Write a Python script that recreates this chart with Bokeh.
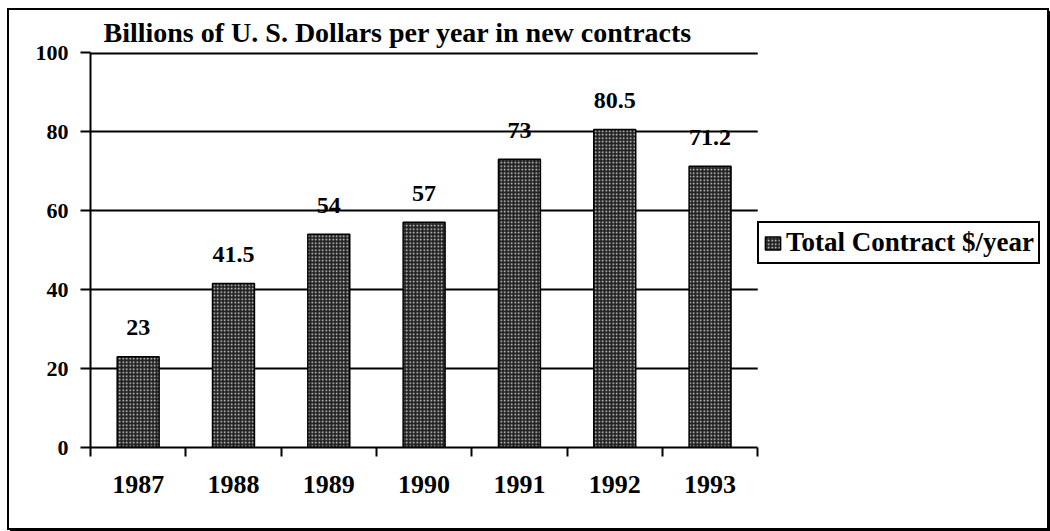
from bokeh.plotting import figure
from bokeh.models import Range1d, FixedTicker, Legend, LegendItem
from bokeh.core.properties import value
from bokeh.embed import file_html
from bokeh.resources import INLINE

# ---- data ----
years = ["1987", "1988", "1989", "1990", "1991", "1992", "1993"]
contracts = [23, 41.5, 54, 57, 73, 80.5, 71.2]
value_labels = ["23", "41.5", "54", "57", "73", "80.5", "71.2"]
y_ticks = [0, 20, 40, 60, 80, 100]
title_text = "Billions of U. S. Dollars per year in new contracts"
series_name = "Total Contract $/year"

FONT = "Liberation Serif"
n = len(years)
xs = list(range(n))
x_left, x_right = -0.5, n - 0.5          # extent of the category axis
x_view_end = x_right + 3.04               # extra room to the right for the legend

p = figure(width=1038, height=518, output_backend="svg", toolbar_location=None,
           x_range=Range1d(x_left, x_view_end), y_range=Range1d(0, 100),
           min_border_left=81, min_border_right=0, min_border_top=42, min_border_bottom=81)
p.styles = {"margin-left": "9px", "margin-top": "10px",
            "box-shadow": "0 0 0 2px black, 3px 3px 0 2px black"}
p.outline_line_color = None
p.background_fill_color = "white"
p.border_fill_color = "white"

# title
p.title.text = title_text
p.title.text_font = FONT
p.title.text_font_style = "bold"
p.title.text_font_size = "28px"
p.title.text_color = "black"
p.title.align = "left"
p.title.offset = 13
p.title.standoff = 9

# horizontal grid lines limited to the category area
grid_vals = y_ticks[1:-1]
p.segment(x0=[x_left] * len(grid_vals), x1=[x_right] * len(grid_vals),
          y0=grid_vals, y1=grid_vals, line_color="black", line_width=2, level="underlay")
# top line (sits on the frame edge, so drawn wider to stay visible)
p.segment(x0=[x_left], x1=[x_right], y0=[y_ticks[-1]], y1=[y_ticks[-1]],
          line_color="black", line_width=4, level="underlay")

# bars
bars = p.vbar(x=xs, top=contracts, width=0.44, bottom=0,
              fill_color="#222222", line_color="black", line_width=1.5,
              hatch_pattern="dot", hatch_color="#e0e0e0", hatch_scale=3.5, hatch_weight=1.2)

# value labels
p.text(x=xs, y=contracts, text=value_labels, text_font=value(FONT), text_font_style="bold",
       text_font_size="24px", text_align="center", text_baseline="middle", y_offset=-29,
       text_color="black")

# x axis: labels at centres, tick marks at category boundaries
xa = p.xaxis[0]
xa.bounds = (x_left, x_right)
xa.ticker = FixedTicker(ticks=xs, minor_ticks=[i - 0.5 for i in range(n + 1)])
xa.major_label_overrides = {i: y for i, y in zip(xs, years)}
xa.major_tick_line_color = None
xa.major_tick_out = 0
xa.major_tick_in = 0
xa.minor_tick_out = 9
xa.minor_tick_in = 0
xa.minor_tick_line_color = "black"
xa.minor_tick_line_width = 2
xa.axis_line_color = "black"
xa.axis_line_width = 2
xa.major_label_standoff = 19
xa.major_label_text_font = FONT
xa.major_label_text_font_style = "bold"
xa.major_label_text_font_size = "26px"
xa.major_label_text_color = "black"

# y axis
ya = p.yaxis[0]
ya.ticker = FixedTicker(ticks=y_ticks)
ya.minor_tick_line_color = None
ya.major_tick_out = 10
ya.major_tick_in = 0
ya.major_tick_line_color = "black"
ya.major_tick_line_width = 2
ya.axis_line_color = "black"
ya.axis_line_width = 2
ya.major_label_standoff = 12
ya.major_label_text_font = FONT
ya.major_label_text_font_style = "bold"
ya.major_label_text_font_size = "22px"
ya.major_label_text_color = "black"

p.xgrid.grid_line_color = None
p.ygrid.grid_line_color = None

# legend
legend = Legend(items=[LegendItem(label=series_name, renderers=[bars])],
                location=(667, 183), orientation="vertical",
                border_line_color="black", border_line_width=2, border_line_alpha=1,
                background_fill_color="white", background_fill_alpha=1,
                label_text_font=FONT, label_text_font_style="bold",
                label_text_font_size="27px", label_text_color="black",
                glyph_width=19, glyph_height=16, label_standoff=4,
                padding=4, margin=0, spacing=0)
p.add_layout(legend, "center")

open("out.html", "w").write(file_html(p, INLINE))
